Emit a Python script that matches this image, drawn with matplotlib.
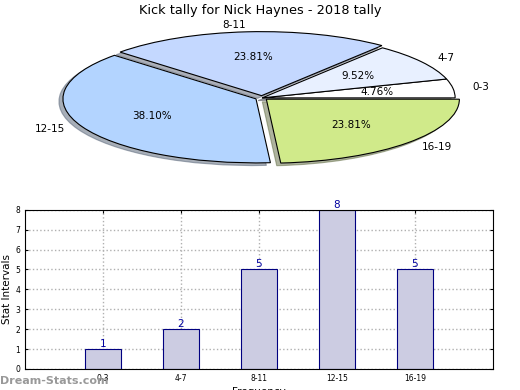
import numpy as np
import matplotlib
matplotlib.use("Agg")
import matplotlib.pyplot as plt

# data
labels = ["0-3", "4-7", "8-11", "12-15", "16-19"]
counts = [1, 2, 5, 8, 5]
pie_colors = ["#ffffff", "#e8f0ff", "#c4d8ff", "#b3d4ff", "#d0ea8a"]
explode = [0, 0, 0.035, 0.035, 0.03]

fig = plt.figure(figsize=(5.2, 3.9), dpi=100)

# pie (squashed ellipse)
ax1 = fig.add_axes([0.0585, 0.552, 0.891, 0.394])
wedges, texts, autotexts = ax1.pie(counts, labels=labels, colors=pie_colors, explode=explode,
                                   autopct="%.2f%%", startangle=0,
                                   shadow={"ox": -0.015, "oy": -0.03, "shade": 0.55},
                                   wedgeprops=dict(edgecolor="black", linewidth=0.8),
                                   textprops=dict(fontsize=7.5))
ax1.set_aspect("auto")
ax1.set_xlim(-1.2, 1.2)
ax1.set_ylim(-1.2, 1.2)
fig.text(0.5, 0.973, "Kick tally for Nick Haynes - 2018 tally", ha="center", va="center", fontsize=9.3)

# bar chart
ax2 = fig.add_axes([0.048, 0.054, 0.9, 0.408])
x = np.arange(1, len(counts) + 1)
ax2.bar(x, counts, width=0.46, color="#ccccE2", edgecolor="#000080", linewidth=0.8, zorder=2)
for xi, c in zip(x, counts):
    ax2.text(xi, c, str(c), ha="center", va="bottom", color="#0000a0", fontsize=7.5, zorder=3)
ax2.set_xlim(0, 6)
ax2.set_ylim(0, 8)
ax2.set_xticks(x)
ax2.set_xticklabels(labels, fontsize=5.5)
ax2.set_yticks(range(0, 9))
ax2.tick_params(axis="y", labelsize=5.5, direction="in", right=True, length=2)
ax2.tick_params(axis="x", direction="in", top=True, length=2)
ax2.grid(True, linestyle=":", color="#b0b0b0", linewidth=1, zorder=0)
ax2.set_ylabel("Stat Intervals", fontsize=7.5, labelpad=2)
ax2.set_xlabel("Frequency", fontsize=7.5, labelpad=3)

fig.text(0.0, 0.024, "Dream-Stats.com", fontsize=8, color="#999999", fontweight="bold", va="center")

fig.savefig("out.png", dpi=100)
